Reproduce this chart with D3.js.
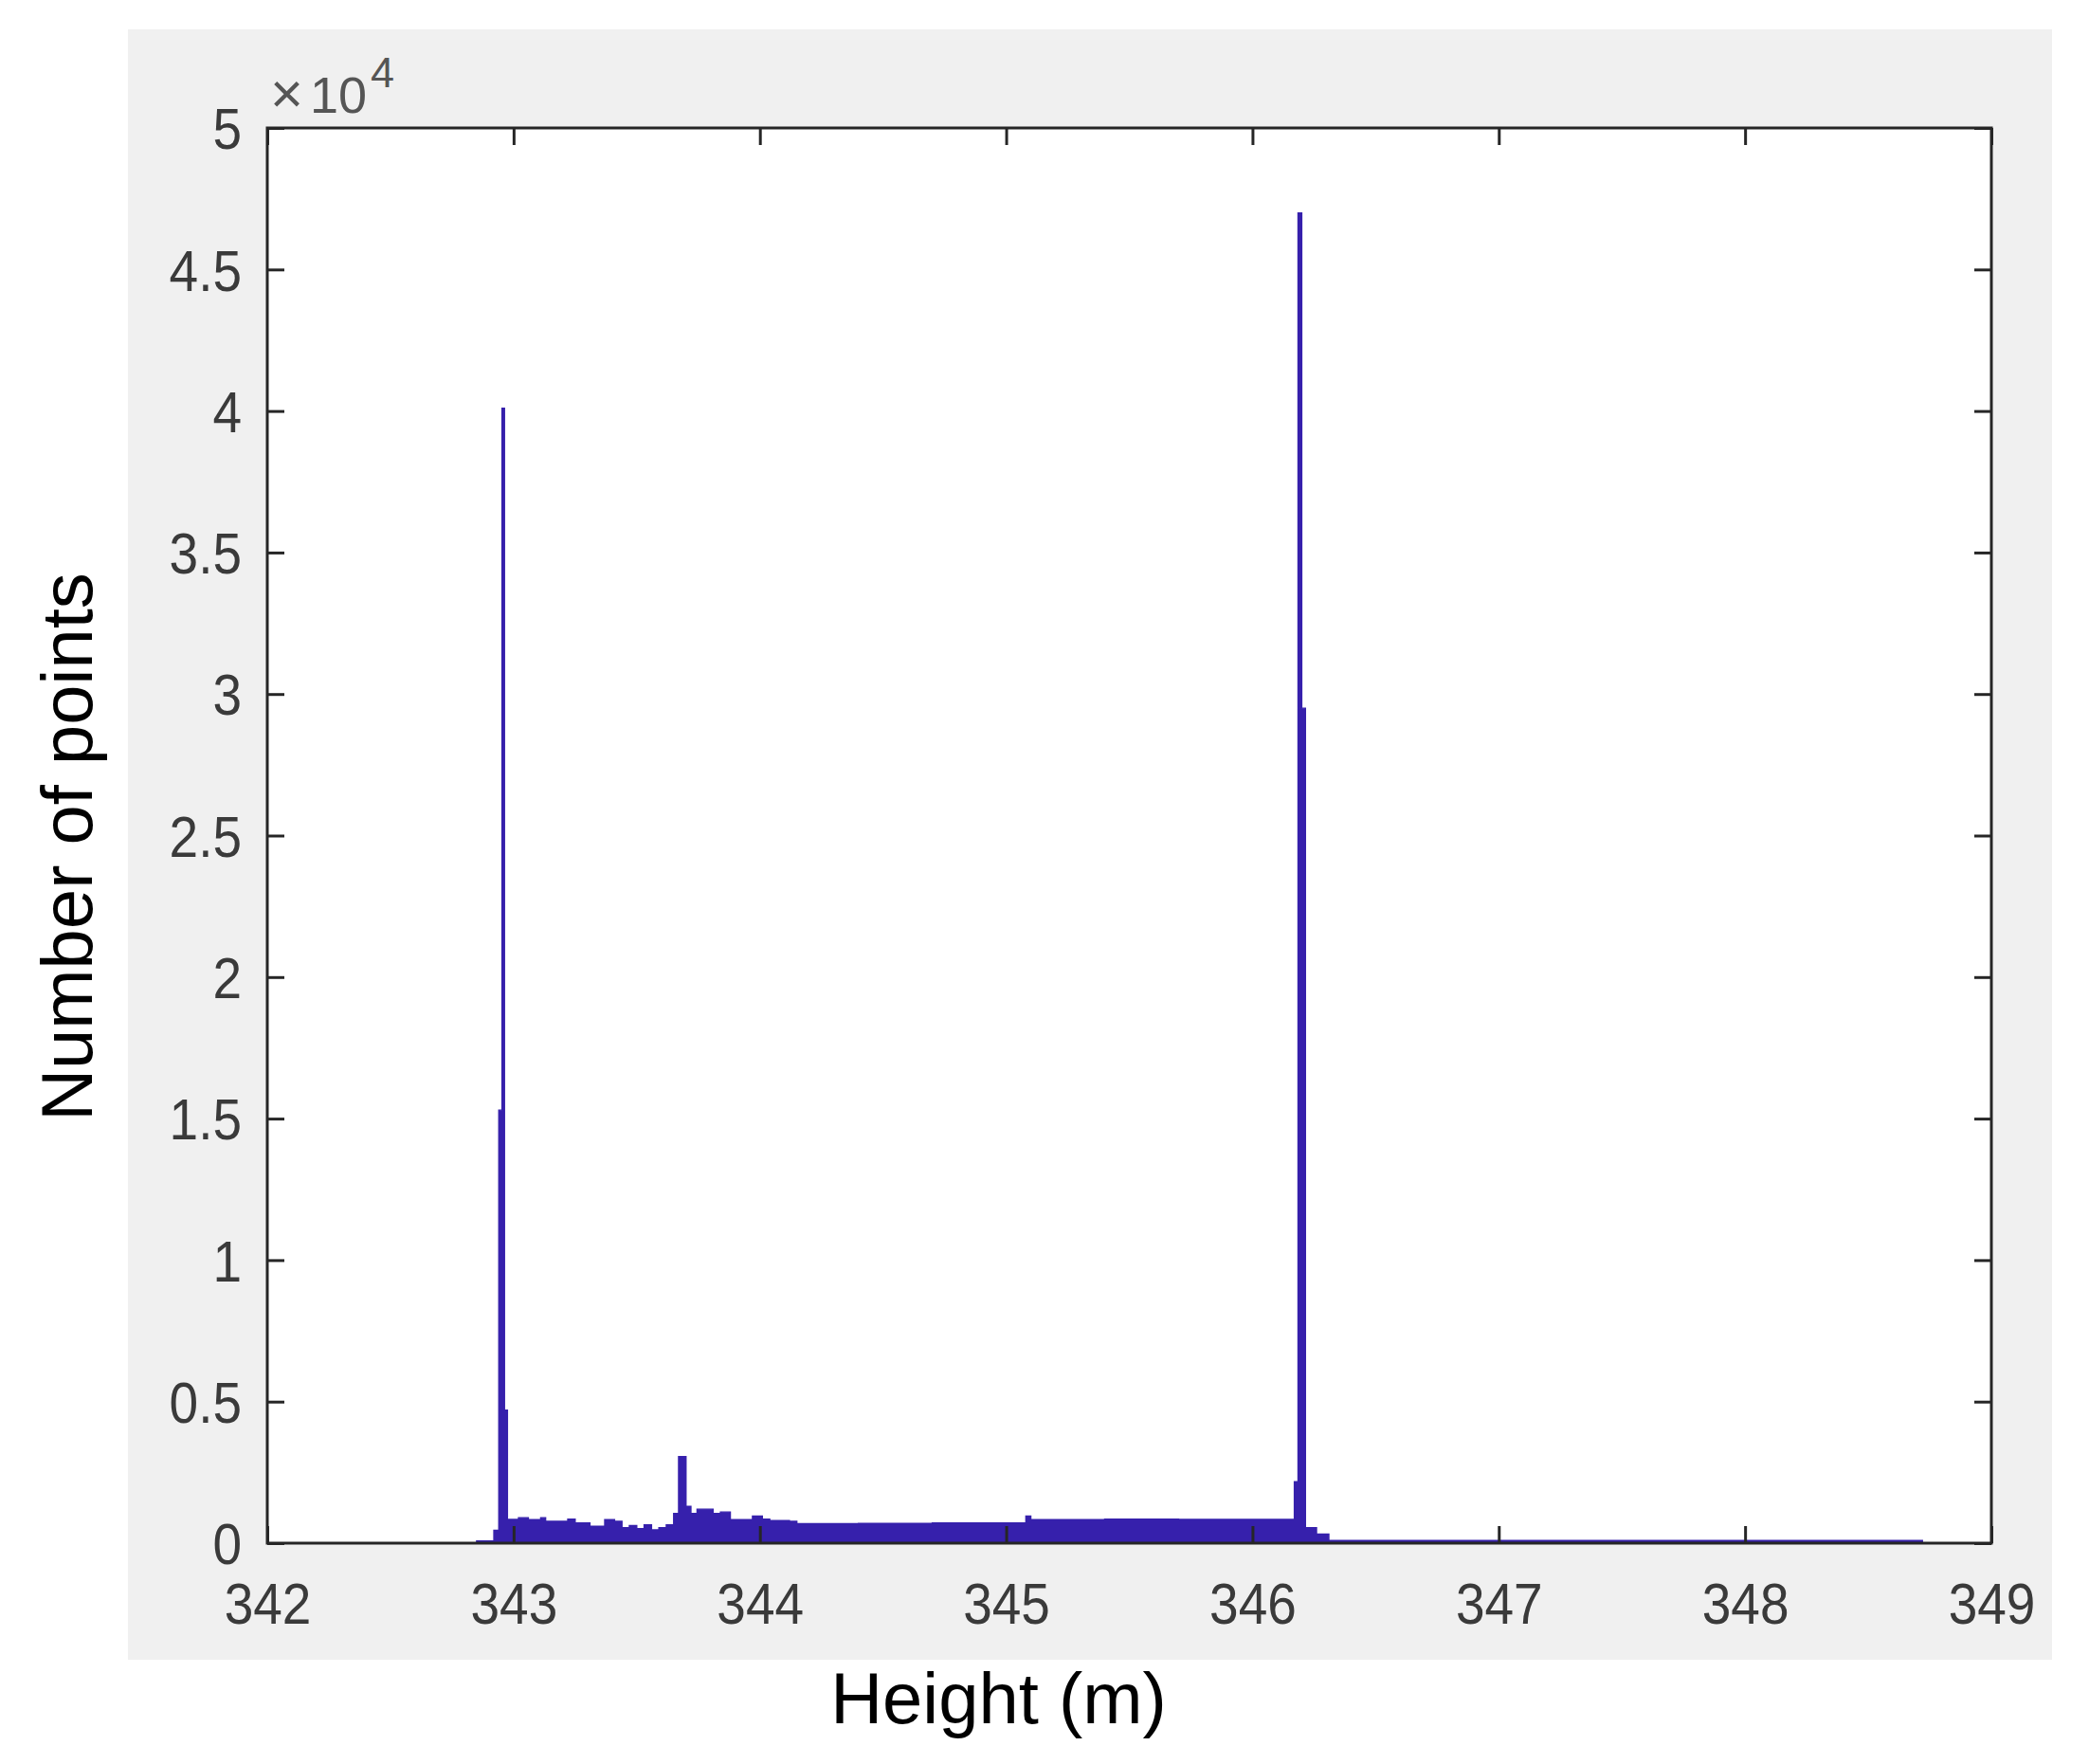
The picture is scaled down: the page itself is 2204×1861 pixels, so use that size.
<!DOCTYPE html>
<html>
<head>
<meta charset="utf-8">
<script src="https://cdn.jsdelivr.net/npm/d3@7"></script>
<style>
  html, body { margin: 0; padding: 0; background: #ffffff; }
  svg { display: block; }
  text { font-family: "Liberation Sans", Arial, sans-serif; }
</style>
</head>
<body>
<script>
// ---------------- DATA ----------------
// Histogram bins: left edge of each bin (height, m) and its count.
const binStart = [
  342.850, 342.920, 342.940, 342.953, 342.963, 342.975,
  343.020, 343.060, 343.110, 343.130, 343.220, 343.250, 343.310, 343.370,
  343.410, 343.440, 343.470, 343.500, 343.530, 343.560, 343.590, 343.620,
  343.650, 343.670, 343.700, 343.720, 343.745, 343.810, 343.840, 343.880,
  343.970, 344.010, 344.040, 344.120, 344.150, 344.400, 344.700, 345.080,
  345.100, 345.400, 345.700, 346.000, 346.170, 346.185, 346.200, 346.215,
  346.260, 346.310
];
const counts = [
  80, 450, 15300, 40100, 4700, 840,
  900, 830, 900, 770, 850, 715, 600, 830,
  770, 550, 620, 510, 650, 470, 550, 650,
  1050, 3060, 1300, 1050, 1200, 1050, 1100, 830,
  960, 850, 800, 770, 690, 700, 715, 960,
  830, 845, 835, 840, 2170, 47000, 29500, 550,
  320, 90
];
const lastEdge = 348.72;

const xTicks = [342, 343, 344, 345, 346, 347, 348, 349];
const yTicks = [0, 5000, 10000, 15000, 20000, 25000, 30000, 35000, 40000, 45000, 50000];
const yTickLabels = ["0", "0.5", "1", "1.5", "2", "2.5", "3", "3.5", "4", "4.5", "5"];
const xTitle = "Height (m)";
const yTitle = "Number of points";
const exponentTimes = "×";
const exponentBase = "10";
const exponentPower = "4";

// ---------------- LAYOUT ----------------
const W = 2204, H = 1861;
const plot = { left: 282, right: 2101, top: 135, bottom: 1628 };
const figBg = { x: 135, y: 31, w: 2030, h: 1720 };
const axisColor = "#262626";
const labelColor = "#3a3a3a";
const barColor = "#3620ac";
const tickLen = 18;
const fontSize = 55;
const vStretch = 1.1;

const svg = d3.select("body").append("svg")
  .attr("width", W).attr("height", H);

svg.append("rect").attr("x", 0).attr("y", 0).attr("width", W).attr("height", H).attr("fill", "#ffffff");
svg.append("rect").attr("x", figBg.x).attr("y", figBg.y).attr("width", figBg.w).attr("height", figBg.h).attr("fill", "#f0f0f0");
svg.append("rect").attr("x", plot.left).attr("y", plot.top)
  .attr("width", plot.right - plot.left).attr("height", plot.bottom - plot.top).attr("fill", "#ffffff");

const x = d3.scaleLinear().domain([342, 349]).range([plot.left, plot.right]);
const y = d3.scaleLinear().domain([0, 50000]).range([plot.bottom, plot.top]);

// histogram area
const pts = binStart.map((s, i) => [s, counts[i]]);
pts.push([lastEdge, counts[counts.length - 1]]);
const area = d3.area()
  .x(d => x(d[0]))
  .y0(y(0))
  .y1(d => y(d[1]))
  .curve(d3.curveStepAfter);
svg.append("path").datum(pts)
  .attr("d", area)
  .attr("fill", barColor)
  .attr("stroke", barColor)
  .attr("stroke-width", 1.4)
  .attr("stroke-linejoin", "miter");

// axes (ticks inside, mirrored on all four sides)
function styleAxis(g) {
  g.selectAll(".domain").remove();
  g.selectAll(".tick line").attr("stroke", axisColor).attr("stroke-width", 3);
}

const xBottom = svg.append("g").attr("transform", `translate(0,${plot.bottom})`)
  .call(d3.axisBottom(x).tickValues(xTicks).tickSize(-tickLen).tickPadding(0).tickFormat(d3.format("d")));
styleAxis(xBottom);
xBottom.selectAll(".tick text")
  .attr("y", 0).attr("dy", null)
  .attr("transform", `translate(0,85) scale(1,${vStretch})`)
  .attr("fill", labelColor).attr("font-size", fontSize)
  .style("font-family", '"Liberation Sans", Arial, sans-serif');

const xTop = svg.append("g").attr("transform", `translate(0,${plot.top})`)
  .call(d3.axisTop(x).tickValues(xTicks).tickSize(-tickLen).tickFormat(""));
styleAxis(xTop);

const yLeft = svg.append("g").attr("transform", `translate(${plot.left},0)`)
  .call(d3.axisLeft(y).tickValues(yTicks).tickSize(-tickLen)
    .tickFormat((d, i) => yTickLabels[i]));
styleAxis(yLeft);
yLeft.selectAll(".tick text")
  .attr("x", 0).attr("dy", "0.36em")
  .attr("transform", `translate(-27,0) scale(1,${vStretch})`)
  .attr("fill", labelColor).attr("font-size", fontSize)
  .style("font-family", '"Liberation Sans", Arial, sans-serif');

const yRight = svg.append("g").attr("transform", `translate(${plot.right},0)`)
  .call(d3.axisRight(y).tickValues(yTicks).tickSize(-tickLen).tickFormat(""));
styleAxis(yRight);

// box
svg.append("rect").attr("x", plot.left).attr("y", plot.top)
  .attr("width", plot.right - plot.left).attr("height", plot.bottom - plot.top)
  .attr("fill", "none").attr("stroke", axisColor).attr("stroke-width", 3);

// exponent label
const expo = svg.append("text").attr("y", 119)
  .attr("fill", "#555555");
expo.append("tspan").attr("x", 285).attr("font-size", 60).text(exponentTimes);
expo.append("tspan").attr("x", 327).attr("font-size", 54).text(exponentBase);
expo.append("tspan").attr("x", 391).attr("y", 92).attr("font-size", 45).text(exponentPower);

// axis titles
svg.append("text").attr("x", (plot.left + plot.right) / 2 - 138).attr("y", 1818)
  .attr("text-anchor", "middle").attr("font-size", 76).attr("fill", "#000")
  .text(xTitle);

svg.append("text")
  .attr("transform", `translate(97,${(plot.top + plot.bottom) / 2 + 12}) rotate(-90)`)
  .attr("text-anchor", "middle").attr("font-size", 76).attr("fill", "#000")
  .text(yTitle);
</script>
</body>
</html>
